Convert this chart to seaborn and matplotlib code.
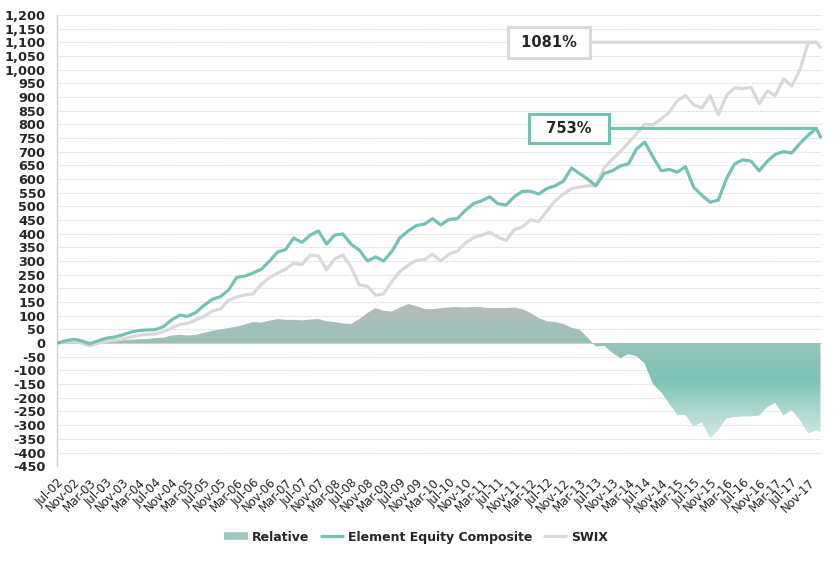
import numpy as np
import pandas as pd
import matplotlib
matplotlib.use('Agg')  # no display
import matplotlib.pyplot as plt
import matplotlib.dates as mdates
from matplotlib.colors import LinearSegmentedColormap
from matplotlib.lines import Line2D
from matplotlib.ticker import FuncFormatter, MultipleLocator
import seaborn as sns

# bi-monthly readings Jul-02 .. Jan-18, plus the last month (Feb-18)
dates = list(pd.date_range('2002-07-01', '2018-01-01', freq='2MS')) + [pd.Timestamp('2018-02-01')]

composite = [0, 8, 14, 8, -2, 8, 18, 22, 30, 40,
             46, 48, 49, 60, 85, 102, 98, 112, 138, 160,
             170, 195, 240, 245, 256, 270, 300, 333, 342, 384,
             368, 395, 410, 362, 395, 399, 362, 340, 300, 315,
             300, 335, 385, 410, 430, 435, 455, 432, 452, 455,
             485, 510, 520, 535, 510, 505, 535, 555, 555, 545,
             565, 575, 592, 640, 620, 600, 575, 620, 630, 648,
             655, 710, 735, 680, 630, 635, 625, 645, 570, 540,
             515, 523, 600, 655, 670, 665, 630, 665, 690, 700,
             695, 730, 760, 785, 753]

swix = [0, 5, 8, 0, -10, 0, 7, 10, 15, 22,
        28, 32, 33, 42, 55, 68, 72, 85, 98, 117,
        125, 157, 168, 176, 180, 215, 240, 256, 270, 292,
        287, 322, 318, 268, 308, 322, 278, 212, 208, 175,
        180, 225, 262, 285, 302, 306, 325, 300, 325, 335,
        366, 385, 395, 405, 388, 375, 415, 425, 450, 445,
        482, 520, 545, 565, 570, 575, 575, 640, 672, 700,
        732, 765, 800, 798, 820, 845, 886, 905, 871, 860,
        905, 835, 905, 933, 930, 935, 875, 922, 905, 966,
        940, 999, 1098, 1100, 1081]

relative = [0, 2, 3, 2, 1, 2, 6, 8, 10, 12,
            14, 15, 18, 20, 28, 30, 28, 30, 38, 45,
            50, 55, 60, 68, 77, 75, 82, 88, 85, 85,
            83, 86, 88, 80, 77, 72, 70, 88, 110, 128,
            118, 115, 130, 143, 135, 125, 124, 128, 130, 132,
            130, 132, 131, 128, 129, 128, 130, 124, 110, 92,
            80, 77, 70, 56, 50, 20, -12, -10, -35, -55,
            -40, -48, -75, -150, -180, -222, -262, -262, -305, -290,
            -348, -318, -275, -270, -268, -268, -265, -234, -218, -265,
            -245, -282, -330, -320, -325]

tick_dates = pd.date_range('2002-07-01', '2017-11-01', freq='4MS')
tick_labels = [d.strftime('%b-%y') for d in tick_dates]

TEAL = '#74c2b3'
GREY = '#d9d9d9'

sns.set_style('white')
plt.rcParams['font.family'] = ['DejaVu Sans']

fig = plt.figure(figsize=(8.4, 5.72), dpi=100)
ax = fig.add_axes([0.068, 0.185, 0.911, 0.789])

xnum = mdates.date2num(dates)

# relative area with vertical gradient
ax.axhline(0, color='#d0d0d0', lw=0.8, zorder=1)
poly = ax.fill_between(xnum, 0, relative, facecolor='none', edgecolor='none', zorder=2)
cmap = LinearSegmentedColormap.from_list('rel', [
    (0.0, '#d4ece8'), (0.25, '#a6d6cd'), (0.44, '#7cc3b6'),
    (0.70, '#97c2ba'), (1.0, '#b8bcba')])
grad = np.linspace(0, 1, 256).reshape(-1, 1)
im = ax.imshow(grad, extent=[xnum[0], xnum[-1], -360, 150], origin='lower',
               aspect='auto', cmap=cmap, zorder=2)
im.set_clip_path(poly.get_paths()[0], transform=ax.transData)

sns.lineplot(x=xnum, y=swix, color=GREY, lw=2.3, ax=ax, zorder=3)
sns.lineplot(x=xnum, y=composite, color=TEAL, lw=2.3, ax=ax, zorder=4)

# end-value call-outs
box_kw = dict(ha='center', va='center', fontsize=10.5, fontweight='bold', zorder=5)
i_s = int(np.argmax(swix))
ax.annotate(f' {swix[-1]}% ', xy=(xnum[i_s], swix[i_s]),
            xytext=(mdates.date2num(pd.Timestamp('2012-07-15')), swix[i_s]),
            bbox=dict(boxstyle='square,pad=0.55', fc='white', ec=GREY, lw=2.2),
            arrowprops=dict(arrowstyle='-', color=GREY, lw=2.2, shrinkA=0, shrinkB=0),
            **box_kw)
i_c = int(np.argmax(composite))
ax.annotate(f'  {composite[-1]}%  ', xy=(xnum[i_c], composite[i_c]),
            xytext=(mdates.date2num(pd.Timestamp('2012-12-15')), composite[i_c]),
            bbox=dict(boxstyle='square,pad=0.5', fc='white', ec=TEAL, lw=2.2),
            arrowprops=dict(arrowstyle='-', color=TEAL, lw=2.2, shrinkA=0, shrinkB=0),
            **box_kw)

ax.set_xlim(mdates.date2num(pd.Timestamp('2002-07-01')), mdates.date2num(pd.Timestamp('2018-02-15')))
ax.set_ylim(-450, 1200)
ax.yaxis.set_major_locator(MultipleLocator(50))
ax.yaxis.set_major_formatter(FuncFormatter(lambda v, p: f'{int(v):,}'))
ax.set_xticks(mdates.date2num(tick_dates))
ax.set_xticklabels(tick_labels, rotation=45, ha='right', rotation_mode='anchor', fontsize=8.5)
ax.tick_params(axis='x', length=0, pad=7, colors='#222222')
ax.tick_params(axis='y', length=0, pad=8.5, labelsize=9.3)
for lab in ax.get_yticklabels():
    lab.set_fontweight('bold')
ax.yaxis.grid(True, color='#dcdcdc', linestyle=(0, (1.5, 1)), linewidth=0.8)
ax.xaxis.grid(False)
ax.set_xlabel('')
ax.set_ylabel('')
for side in ['top', 'right', 'bottom']:
    ax.spines[side].set_visible(False)
ax.spines['left'].set_color('#d0d0d0')
ax.spines['left'].set_linewidth(1)

handles = [Line2D([], [], color='#a3c7bf', lw=5.5, solid_capstyle='butt'),
           Line2D([], [], color=TEAL, lw=2.3, solid_capstyle='butt'),
           Line2D([], [], color=GREY, lw=2.3, solid_capstyle='butt')]
fig.legend(handles, ['Relative', 'Element Equity Composite', 'SWIX'],
           loc='center', bbox_to_anchor=(0.495, 0.061), ncol=3, frameon=False,
           prop={'weight': 'bold', 'size': 9}, handlelength=1.9,
           handletextpad=0.3, columnspacing=0.9)

fig.savefig('out.png', dpi=100)
plt.close(fig)
